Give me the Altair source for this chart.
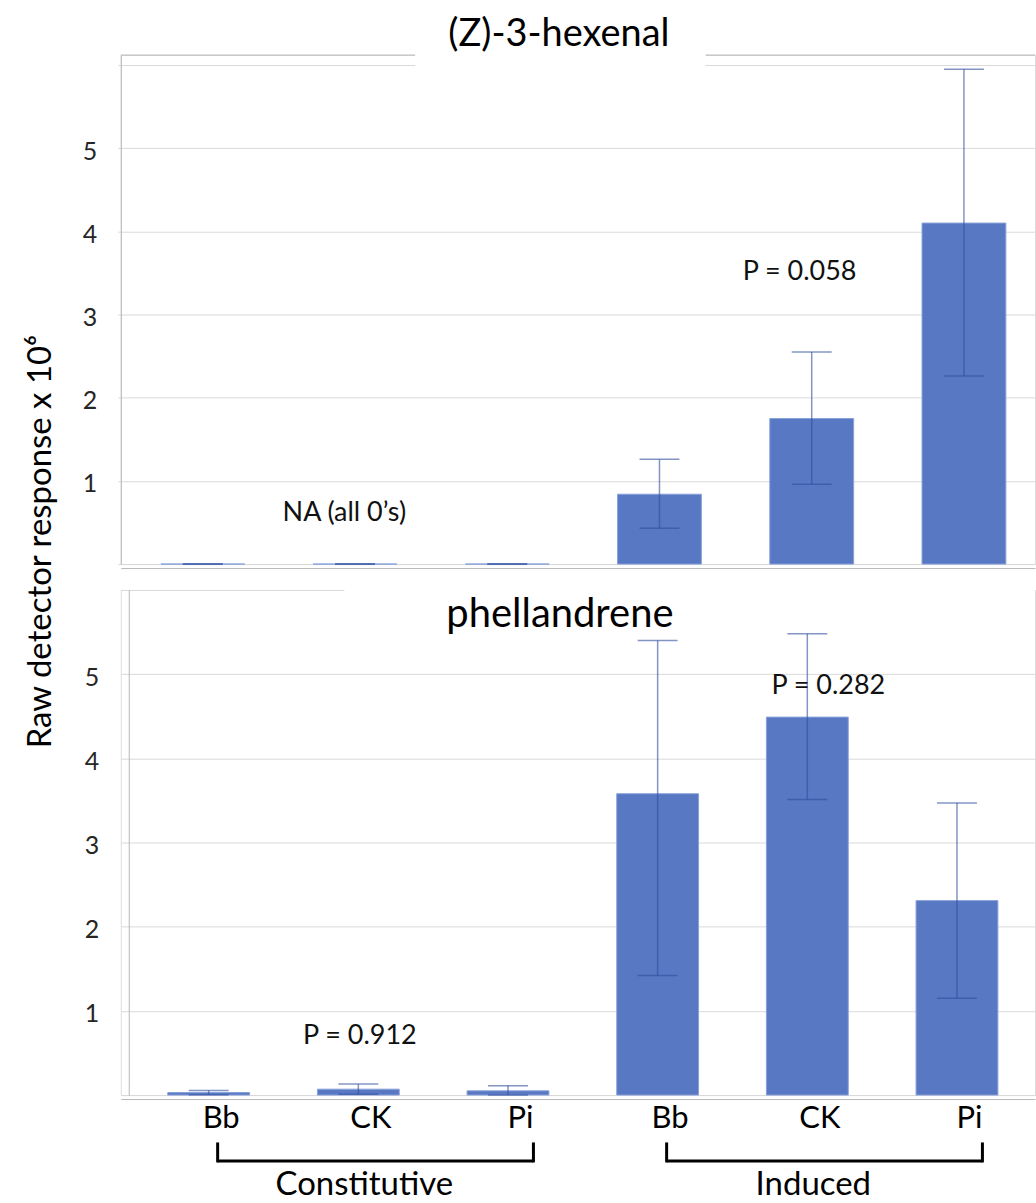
import altair as alt
import pandas as pd

# Treatments along the x axis (three constitutive, three induced)
treatments = ["Bb", "CK", "Pi", "Bb", "CK", "Pi"]
group_names = ["Constitutive", "Induced"]
group_members = [[0, 1, 2], [3, 4, 5]]

# (Z)-3-hexenal: mean and error-bar limits (x 10^6)
hexenal_mean = [0.0, 0.0, 0.0, 0.84, 1.75, 4.10]
hexenal_low = [0.0, 0.0, 0.0, 0.43, 0.96, 2.26]
hexenal_high = [0.0, 0.0, 0.0, 1.26, 2.55, 5.95]

# phellandrene: mean and error-bar limits (x 10^6)
phell_mean = [0.03, 0.07, 0.05, 3.58, 4.49, 2.31]
phell_low = [0.005, 0.01, 0.0, 1.42, 3.51, 1.15]
phell_high = [0.055, 0.13, 0.11, 5.40, 5.48, 3.47]

# In-plot notes (text, x position in treatment units, y value)
hexenal_notes = ["NA (all 0\u2019s)", "P = 0.058"]
hexenal_note_x = [0.93, 3.92]
hexenal_note_y = [0.61, 3.51]
phell_notes = ["P = 0.912", "P = 0.282"]
phell_note_x = [1.01, 4.14]
phell_note_y = [0.70, 4.86]

FONT = "Lato"
BAR = "#5878c4"
ERR = "#2f4f9e"
GRID = "#d9d9d9"
FRAME = "#b7b7b7"
W = 916


def bar_table(mean, low, high):
    return pd.DataFrame({"idx": list(range(len(treatments))), "treatment": treatments,
                         "mean": mean, "low": low, "high": high})


def cap_table(low, high):
    idx = list(range(len(treatments)))
    return pd.DataFrame({"idx": idx + idx, "val": low + high})


def panel(mean, low, high, notes, note_x, note_y, xdom, ydom, bar_size, yaxis, xaxis):
    xs = alt.Scale(domain=xdom, nice=False, zero=False)
    ys = alt.Scale(domain=ydom, nice=False, zero=True)
    data = bar_table(mean, low, high)
    x = alt.X("idx:Q", scale=xs, axis=xaxis, title=None)

    bars = alt.Chart(data).mark_bar(
        size=bar_size, color=BAR, stroke="#8aa2da", strokeWidth=1, orient="vertical"
    ).encode(x=x, y=alt.Y("mean:Q", scale=ys, axis=yaxis))

    stems = alt.Chart(data).mark_rule(color=ERR, opacity=0.6, strokeWidth=1.5).encode(
        x=x, y=alt.Y("low:Q", scale=ys, axis=yaxis), y2="high:Q")

    caps = alt.Chart(cap_table(low, high)).mark_tick(
        orient="horizontal", size=40, thickness=1.5, color=ERR, opacity=0.6
    ).encode(x=x, y=alt.Y("val:Q", scale=ys, axis=yaxis))

    note_df = pd.DataFrame({"label": notes, "nx": note_x, "ny": note_y})
    text = alt.Chart(note_df).mark_text(
        font=FONT, fontSize=27, color="#111111", align="center", baseline="middle"
    ).encode(x=alt.X("nx:Q", scale=xs, axis=xaxis),
             y=alt.Y("ny:Q", scale=ys, axis=yaxis), text="label:N")

    return [bars, stems, caps, text]


one = pd.DataFrame({"k": [0]})

# ---------- upper panel: (Z)-3-hexenal ----------
top_yaxis = alt.Axis(
    values=[0, 1, 2, 3, 4, 5, 6], title=None,
    labelExpr="datum.value >= 1 && datum.value <= 5 ? datum.label : ''",
    grid=True, gridColor=GRID, domainColor=FRAME, tickColor=GRID, tickSize=3,
    labelFont=FONT, labelFontSize=25, labelColor="#262626", labelPadding=21, labelOffset=3,
)
top_xaxis = alt.Axis(labels=False, ticks=False, grid=False, domainColor=FRAME, offset=4, title=None)

top_layers = panel(hexenal_mean, hexenal_low, hexenal_high,
                   hexenal_notes, hexenal_note_x, hexenal_note_y,
                   [-0.506, 5.434], [0, 6.12], 84, top_yaxis, top_xaxis)

top_frame = alt.Chart(one).mark_rule(color=FRAME, strokeWidth=1).encode(
    x=alt.value(0), x2=alt.value(W), y=alt.value(0))
top_gap = alt.Chart(one).mark_rect(color="white").encode(
    x=alt.value(295), x2=alt.value(586), y=alt.value(-53), y2=alt.value(13))
top_anchor = alt.Chart(one).mark_rect(color="white").encode(
    x=alt.value(-120), x2=alt.value(-110), y=alt.value(-53), y2=alt.value(-50))
top_title = alt.Chart(one).mark_text(
    text="(Z)-3-hexenal", font=FONT, fontSize=38, color="black", align="center", baseline="alphabetic"
).encode(x=alt.value(439), y=alt.value(-9))

top = alt.layer(top_frame, *top_layers, top_gap, top_anchor, top_title).properties(width=W, height=510)

# ---------- lower panel: phellandrene ----------
label_array = "[" + ",".join("'" + t + "'" for t in treatments) + "]"
bot_yaxis = alt.Axis(
    values=[0, 1, 2, 3, 4, 5, 6],
    title="Raw detector response x 10\u2076",
    labelExpr="datum.value >= 1 && datum.value <= 5 ? datum.label : ''",
    grid=True, gridColor=GRID, domainColor=FRAME, ticks=False, offset=-8,
    labelFont=FONT, labelFontSize=25, labelColor="#262626", labelPadding=30, labelOffset=3,
    titleFont=FONT, titleFontSize=33, titleFontWeight="normal", titleColor="black",
    titleAngle=270, titleAlign="center", titleBaseline="middle", titleX=-88, titleY=-49,
)
bot_xaxis = alt.Axis(
    values=list(range(len(treatments))), labelExpr=label_array + "[datum.value]",
    ticks=False, grid=False, domainColor=FRAME, offset=4, title=None,
    labelFont=FONT, labelFontSize=31, labelColor="black", labelPadding=5, labelOffset=12,
)

bot_layers = panel(phell_mean, phell_low, phell_high,
                   phell_notes, phell_note_x, phell_note_y,
                   [-0.554, 5.488], [0, 6], 82, bot_yaxis, bot_xaxis)

bot_xs = alt.Scale(domain=[-0.554, 5.488], nice=False, zero=False)
bot_gap = alt.Chart(one).mark_rect(color="white").encode(
    x=alt.value(224), x2=alt.value(W), y=alt.value(-4), y2=alt.value(4))
bot_title = alt.Chart(one).mark_text(
    text="phellandrene", font=FONT, fontSize=40, color="black", align="center", baseline="alphabetic"
).encode(x=alt.value(440), y=alt.value(37))

# Brackets grouping the treatments beneath the axis labels
brackets = pd.DataFrame({
    "group": group_names,
    "lo": [m[0] + 0.06 for m in group_members],
    "hi": [m[-1] + 0.17 for m in group_members],
    "mid": [(m[0] + m[-1]) / 2 + 0.04 for m in group_members],
})
bracket_ends = pd.DataFrame({"end": list(brackets["lo"]) + list(brackets["hi"])})

bracket_h = alt.Chart(brackets).mark_rule(color="black", strokeWidth=3).encode(
    x=alt.X("lo:Q", scale=bot_xs, axis=bot_xaxis), x2="hi:Q", y=alt.value(572))
bracket_v = alt.Chart(bracket_ends).mark_rule(color="black", strokeWidth=3, strokeCap="square").encode(
    x=alt.X("end:Q", scale=bot_xs, axis=bot_xaxis), y=alt.value(555), y2=alt.value(572))
bracket_text = alt.Chart(brackets).mark_text(
    font=FONT, fontSize=33, color="black", align="center", baseline="alphabetic"
).encode(x=alt.X("mid:Q", scale=bot_xs, axis=bot_xaxis), y=alt.value(606), text="group:N")

bottom = alt.layer(*bot_layers, bot_gap, bot_title, bracket_h, bracket_v, bracket_text).properties(
    width=W, height=506)

# Panels are stacked by their plot areas only, so the shared axis title may overhang
chart = alt.vconcat(top, bottom, spacing=26, bounds="flush").properties(
    padding={"left": 0, "top": 0, "right": 0, "bottom": 0}
).configure_view(stroke=None).configure(font=FONT)

chart.save("out.html", embed_options={"renderer": "svg", "actions": False})
